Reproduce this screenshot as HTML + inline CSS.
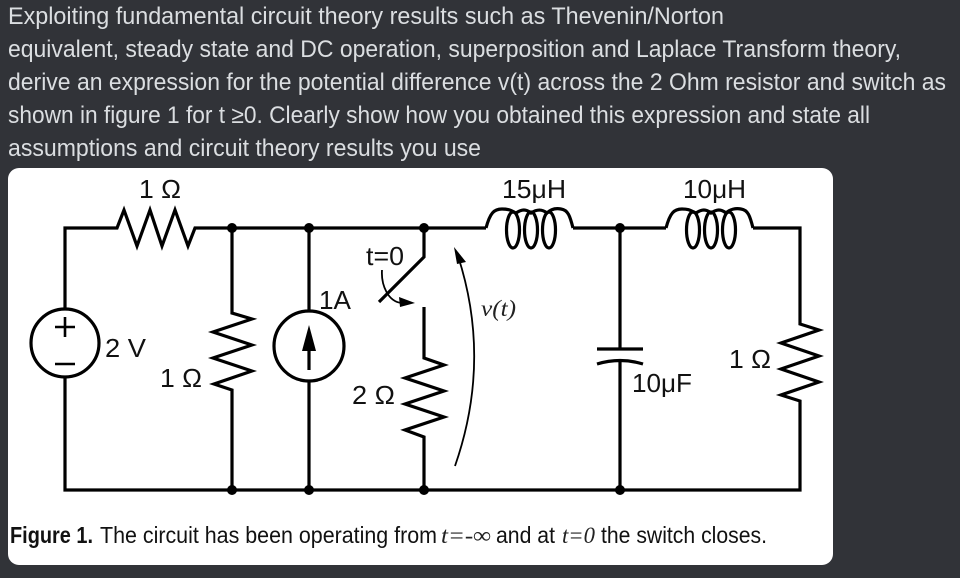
<!DOCTYPE html>
<html><head><meta charset="utf-8"><style>
html,body{margin:0;padding:0;background:#313338;width:960px;height:578px;overflow:hidden}
svg{display:block}
.h{font:24px "Liberation Sans",sans-serif;fill:#dbdee1}
.l{font:26px "Liberation Sans",sans-serif;fill:#111}
.c{font:23px "Liberation Sans",sans-serif;fill:#111}
.i{font:italic 23px "Liberation Serif",serif;fill:#222}
.w{fill:none;stroke:#000;stroke-width:3.2;stroke-linejoin:miter}
</style></head><body>
<svg width="960" height="578" viewBox="0 0 960 578" xmlns="http://www.w3.org/2000/svg">
<rect width="960" height="578" fill="#313338"/>
<text class="h" x="8" y="24" textLength="716" lengthAdjust="spacingAndGlyphs">Exploiting fundamental circuit theory results such as Thevenin/Norton</text>
<text class="h" x="8" y="57" textLength="893" lengthAdjust="spacingAndGlyphs">equivalent, steady state and DC operation, superposition and Laplace Transform theory,</text>
<text class="h" x="8" y="90" textLength="938" lengthAdjust="spacingAndGlyphs">derive an expression for the potential difference v(t) across the 2 Ohm resistor and switch as</text>
<text class="h" x="8" y="123" textLength="862" lengthAdjust="spacingAndGlyphs">shown in figure 1 for t ≥0. Clearly show how you obtained this expression and state all</text>
<text class="h" x="8" y="156" textLength="473" lengthAdjust="spacingAndGlyphs">assumptions and circuit theory results you use</text>
<rect x="8" y="168" width="825" height="397" rx="11" fill="#fff"/>

<!-- wires -->
<path class="w" d="M65 309V228H117L124 210L137 246L150 210L162 246L175 210L188 246L195 228H486"/>
<path class="w" d="M573 228H666"/>
<path class="w" d="M753 228H800V324L819 330L781 343L819 356L781 369L819 382L781 395L800 401V490H65V377"/>
<path class="w" d="M232 228V313L252 319L213 332L252 345L213 358L252 371L214 384L232 390V490"/>
<path class="w" d="M309 228V311M309 350V370M309 381V490"/>
<path class="w" d="M424 228V257L379 302"/>
<path class="w" d="M424 307V358L444 365L405 378L444 391L405 404L444 417L405 430L424 437V490"/>
<path class="w" d="M620 228V349M597 349H643M597 364Q620 357 643 364M620 361V490"/>

<!-- inductors -->
<path class="w" d="M486 228C490 213 494 209 502 209C510 209 512 211 516 213C522 209 526 209 531 213C537 209 542 209 547 213C551 209 556 208 561 209C568 210 570 216 573 228"/>
<ellipse class="w" cx="513" cy="230" rx="6.5" ry="18"/>
<ellipse class="w" cx="531" cy="230" rx="6.5" ry="18"/>
<ellipse class="w" cx="549" cy="230" rx="6.5" ry="18"/>
<path class="w" d="M666 228C670 213 674 209 682 209C690 209 691 211 696 213C702 209 706 209 711 213C717 209 721 209 726 213C730 209 736 208 741 209C748 210 750 216 753 228"/>
<ellipse class="w" cx="693" cy="230" rx="6.5" ry="18"/>
<ellipse class="w" cx="711" cy="230" rx="6.5" ry="18"/>
<ellipse class="w" cx="729" cy="230" rx="6.5" ry="18"/>

<!-- sources -->
<circle class="w" cx="65" cy="343" r="34"/>
<path class="w" style="stroke-width:2.6" d="M65 317V337M55 327H75M55 364H75"/>
<circle class="w" cx="309" cy="346" r="35"/>
<path d="M309 325L316 351H302Z" fill="#000"/>

<!-- dots -->
<g fill="#000">
<circle cx="232" cy="228" r="5"/><circle cx="309" cy="228" r="5"/><circle cx="424" cy="228" r="5"/><circle cx="620" cy="228" r="5"/>
<circle cx="232" cy="490" r="5"/><circle cx="309" cy="490" r="5"/><circle cx="424" cy="490" r="5"/><circle cx="620" cy="490" r="5"/>
</g>

<!-- switch arrow -->
<path d="M382 270C381 285 388 302 402 303" fill="none" stroke="#000" stroke-width="1.8"/>
<path d="M415 303L399 297L400 307Z" fill="#000"/>
<!-- v(t) arrow -->
<path d="M455 466C478 400 482 330 458 256" fill="none" stroke="#000" stroke-width="1.8"/>
<path d="M454 247L466 262L457 264Z" fill="#000"/>

<!-- labels -->
<text class="l" x="139" y="198" textLength="42" lengthAdjust="spacingAndGlyphs">1 Ω</text>
<text class="l" x="502" y="198" textLength="64" lengthAdjust="spacingAndGlyphs">15μH</text>
<text class="l" x="683" y="198" textLength="63" lengthAdjust="spacingAndGlyphs">10μH</text>
<text class="l" x="105" y="357" textLength="41" lengthAdjust="spacingAndGlyphs">2 V</text>
<text class="l" x="160" y="387" textLength="42" lengthAdjust="spacingAndGlyphs">1 Ω</text>
<text class="l" x="352" y="404" textLength="43" lengthAdjust="spacingAndGlyphs">2 Ω</text>
<text class="l" x="319" y="309" textLength="32" lengthAdjust="spacingAndGlyphs">1A</text>
<text class="l" x="366" y="265" textLength="38" lengthAdjust="spacingAndGlyphs">t=0</text>
<text class="l" x="632" y="392" textLength="60" lengthAdjust="spacingAndGlyphs">10μF</text>
<text class="l" x="729" y="368" textLength="42" lengthAdjust="spacingAndGlyphs">1 Ω</text>
<text class="i" x="481" y="316" textLength="35" lengthAdjust="spacingAndGlyphs">v(t)</text>

<!-- caption -->
<text class="c" x="10" y="543" style="font-weight:bold" textLength="83" lengthAdjust="spacingAndGlyphs">Figure 1.</text>
<text class="c" x="100" y="543" textLength="337" lengthAdjust="spacingAndGlyphs">The circuit has been operating from</text>
<text class="i" x="441" y="543" textLength="50" lengthAdjust="spacingAndGlyphs">t=-∞</text>
<text class="c" x="496" y="543" textLength="59" lengthAdjust="spacingAndGlyphs">and at</text>
<text class="i" x="562" y="543" textLength="33" lengthAdjust="spacingAndGlyphs">t=0</text>
<text class="c" x="601" y="543" textLength="166" lengthAdjust="spacingAndGlyphs">the switch closes.</text>
</svg>
</body></html>
